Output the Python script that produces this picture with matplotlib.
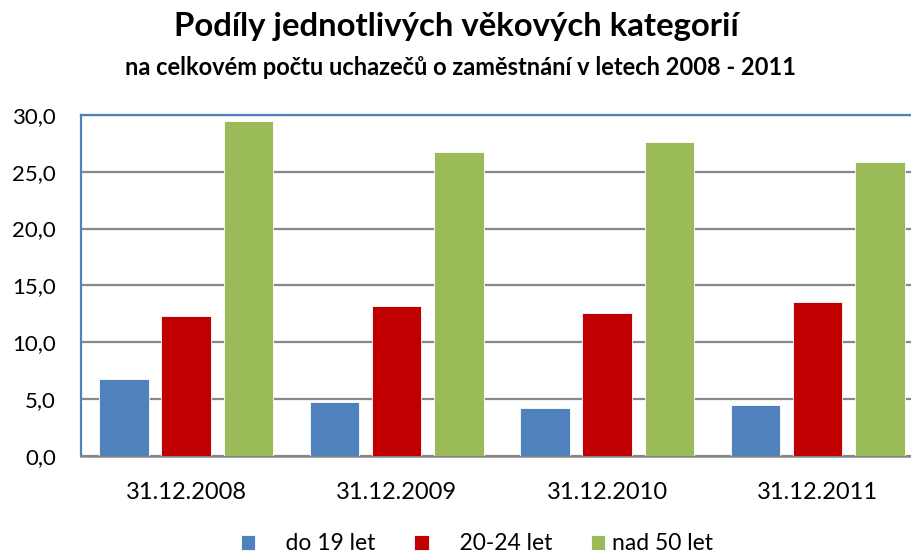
import numpy as np
import matplotlib
matplotlib.use("Agg")
import matplotlib.pyplot as plt

plt.rcParams['font.family'] = ['Lato', 'DejaVu Sans']

dates = ["31.12.2008", "31.12.2009", "31.12.2010", "31.12.2011"]
series_names = ["    do 19 let", "    20-24 let", "nad 50 let"]
do19 = [6.8, 4.7, 4.2, 4.5]
od20do24 = [12.3, 13.2, 12.6, 13.5]
nad50 = [29.5, 26.7, 27.6, 25.9]
colors = ["#4F81BD", "#C00000", "#9BBB59"]
yticks = [0, 5, 10, 15, 20, 25, 30]

fig = plt.figure(figsize=(9.12, 5.56), dpi=100)
ax = fig.add_axes([0.0888, 0.18, 0.9232, 0.6133])

x = np.arange(len(dates))
w = 0.235
step = 0.295
for i, (vals, name) in enumerate(zip([do19, od20do24, nad50], series_names)):
    ax.bar(x + (i - 1) * step, vals, width=w, color=colors[i], label=name,
           edgecolor="white", linewidth=0.6, zorder=3)

ax.set_xlim(-0.5, 3.5)
ax.set_ylim(0, 30)
ax.set_yticks(yticks)
ax.set_yticklabels([f"{v:.1f}".replace(".", ",") for v in yticks], fontsize=16)
ax.set_xticks(x)
ax.set_xticklabels(dates, fontsize=17)
ax.tick_params(axis="both", length=0)
ax.tick_params(axis="y", pad=18)
ax.tick_params(axis="x", pad=19)
ax.yaxis.grid(True, color="#888888", linewidth=1.6, zorder=0)
for s in ["left", "top", "right"]:
    ax.spines[s].set_color("#4F81BD")
    ax.spines[s].set_linewidth(1.6)
ax.spines["bottom"].set_color("#888888")
ax.spines["bottom"].set_linewidth(1.8)

fig.text(0.5, 0.953, "Podíly jednotlivých věkových kategorií", ha="center", va="center",
         fontsize=23.7, fontweight="bold")
fig.text(0.505, 0.878, "na celkovém počtu uchazečů o zaměstnání v letech 2008 - 2011",
         ha="center", va="center", fontsize=17, fontweight="bold")

fig.legend(loc="center", bbox_to_anchor=(0.523, 0.022), ncol=3, frameon=False, fontsize=16.5,
           handlelength=0.62, handleheight=0.62, handletextpad=0.3, columnspacing=1.7,
           borderpad=0.2)

fig.savefig("out.png", dpi=100)
